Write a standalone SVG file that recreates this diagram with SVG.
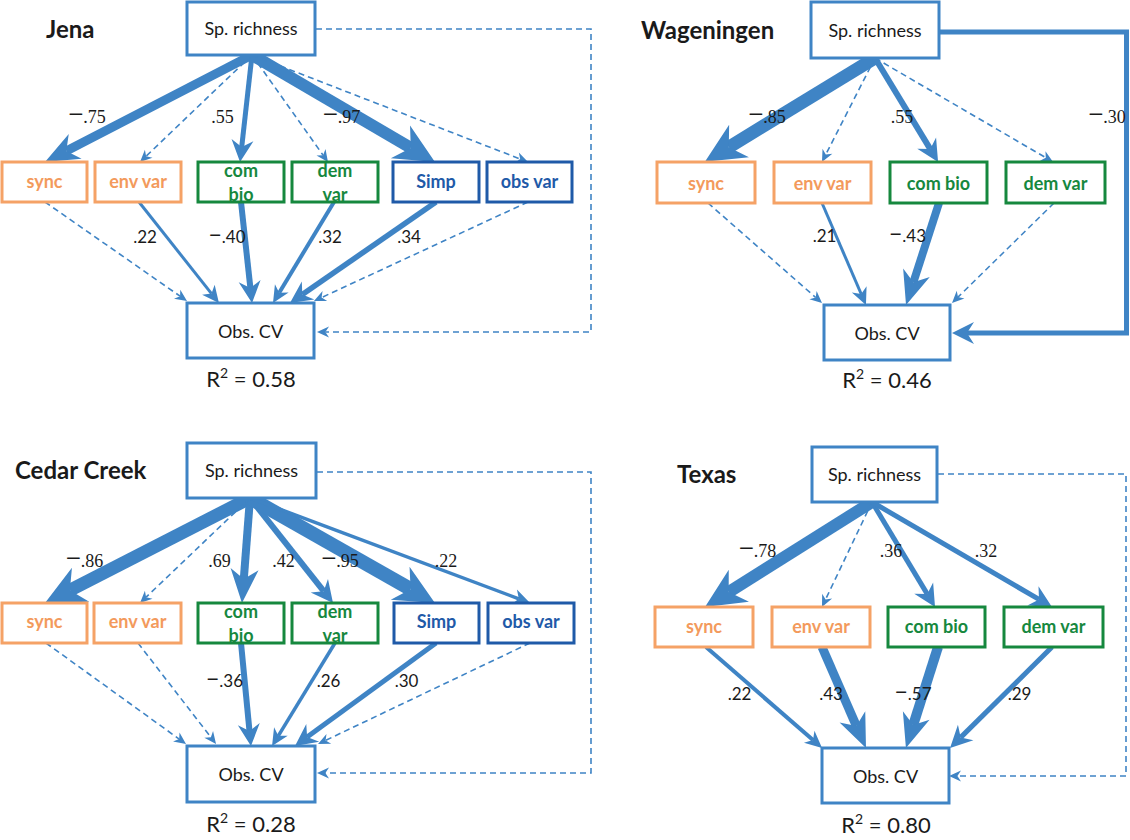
<svg xmlns="http://www.w3.org/2000/svg" width="1130" height="840" viewBox="0 0 1130 840">
<style>
.bg{fill:#fff}
.b{fill:#fff;stroke:#3f84c5;stroke-width:3}
.o{fill:#fff;stroke:#f5a266;stroke-width:3}
.g{fill:#fff;stroke:#16883e;stroke-width:3}
.d{fill:#fff;stroke:#1f5aa8;stroke-width:3}
.gn{fill:none;stroke:#16883e;stroke-width:3}
.t{font-family:Lato,"Liberation Sans",sans-serif;font-size:18px;fill:#1a1a1a;text-anchor:middle}
.tb{font-family:Lato,"Liberation Sans",sans-serif;font-size:18px;font-weight:bold;text-anchor:middle}
.to{fill:#f39a5c}
.tg{fill:#16883e}
.td{fill:#1f5aa8}
.title{font-family:Lato,"Liberation Sans",sans-serif;font-size:24px;font-weight:bold;fill:#1a1a1a}
.r2{font-family:Lato,"Liberation Sans",sans-serif;font-size:22px;fill:#1a1a1a;text-anchor:middle}
.c{fill:none;stroke:#3f84c5;stroke-linecap:butt;stroke-linejoin:miter}
.dash{stroke-width:1.6;stroke-dasharray:6 4;marker-end:url(#m1)}
.ls{font-family:"Liberation Serif","Times New Roman",serif;font-size:18px;fill:#1a1a1a;text-anchor:middle}
.lc{font-family:Lato,"Liberation Sans",sans-serif;font-size:17px;fill:#1a1a1a;text-anchor:middle}
.ms{font-size:27px}
.mc{font-size:23px}
</style>
<defs>
<marker id="m1" markerUnits="userSpaceOnUse" orient="auto" overflow="visible" refX="0" refY="0" markerWidth="1" markerHeight="1"><path d="M8.4,0 L-3.6,-5.5 L0,0 L-3.6,5.5Z" fill="#3f84c5"/></marker>
<marker id="m2" markerUnits="userSpaceOnUse" orient="auto" overflow="visible" refX="0" refY="0" markerWidth="1" markerHeight="1"><path d="M12,0 L-5,-8 L0,0 L-5,8Z" fill="#3f84c5"/></marker>
<marker id="m3" markerUnits="userSpaceOnUse" orient="auto" overflow="visible" refX="0" refY="0" markerWidth="1" markerHeight="1"><path d="M15,0 L-7,-11 L0,0 L-7,11Z" fill="#3f84c5"/></marker>
<marker id="m4" markerUnits="userSpaceOnUse" orient="auto" overflow="visible" refX="0" refY="0" markerWidth="1" markerHeight="1"><path d="M24,0 L-10,-14 L0,0 L-10,14Z" fill="#3f84c5"/></marker>
<marker id="m5" markerUnits="userSpaceOnUse" orient="auto" overflow="visible" refX="0" refY="0" markerWidth="1" markerHeight="1"><path d="M28,0 L-12,-19 L0,0 L-12,19Z" fill="#3f84c5"/></marker>
</defs>
<rect class="bg" x="0" y="0" width="1130" height="840"/>

<g id="titles">
<text class="title" x="46" y="38">Jena</text>
<text class="title" x="641" y="39">Wageningen</text>
<text class="title" x="15" y="479">Cedar Creek</text>
<text class="title" x="677" y="483">Texas</text>
</g>

<g id="connectors">
<!-- Jena -->
<path class="c" d="M252,55 L66.3,151" stroke-width="9" marker-end="url(#m4)"/>
<path class="c dash" d="M252,55 L146.1,156.2"/>
<path class="c" d="M252,55 L241.7,147.1" stroke-width="5" marker-end="url(#m3)"/>
<path class="c dash" d="M252,55 L323.1,155.2"/>
<path class="c" d="M252,55 L410.8,147.9" stroke-width="12" marker-end="url(#m5)"/>
<path class="c dash" d="M252,55 L520.2,159"/>
<path class="c dash" d="M45,202 L180.1,296.2"/>
<path class="c" d="M139,202 L211.5,293.6" stroke-width="3" marker-end="url(#m2)"/>
<path class="c" d="M241,202 L250.4,288.1" stroke-width="6" marker-end="url(#m3)"/>
<path class="c" d="M334,202 L279.2,292.7" stroke-width="4" marker-end="url(#m2)"/>
<path class="c" d="M436,202 L302.3,294.5" stroke-width="5.5" marker-end="url(#m3)"/>
<path class="c dash" d="M528,202 L321.6,297.5"/>
<path class="c dash" d="M316,29 H591 V332 H325.4"/>
<!-- Wageningen -->
<path class="c" d="M875,58 L728.8,147.2" stroke-width="13" marker-end="url(#m5)"/>
<path class="c dash" d="M875,58 L825.8,154.5"/>
<path class="c" d="M875,58 L930.3,149.1" stroke-width="6" marker-end="url(#m3)"/>
<path class="c dash" d="M875,58 L1045.8,157.7"/>
<path class="c dash" d="M708,203 L815.7,297.5"/>
<path class="c" d="M822,203 L861.2,294" stroke-width="3" marker-end="url(#m2)"/>
<path class="c" d="M939,203 L913.4,282.2" stroke-width="8" marker-end="url(#m4)"/>
<path class="c dash" d="M1054,203 L958,297.1"/>
<path class="c" d="M940,32 H1126.5 V333 H967" stroke-width="5" marker-end="url(#m3)"/>
<!-- Cedar Creek -->
<path class="c" d="M250,498 L69.9,590.2" stroke-width="13" marker-end="url(#m5)"/>
<path class="c dash" d="M250,498 L146.1,597.2"/>
<path class="c" d="M250,498 L243.8,579.1" stroke-width="8" marker-end="url(#m4)"/>
<path class="c" d="M250,498 L323.7,591.2" stroke-width="6" marker-end="url(#m3)"/>
<path class="c" d="M250,498 L410.6,589.2" stroke-width="14" marker-end="url(#m5)"/>
<path class="c" d="M250,498 L518.8,598.8" stroke-width="3.5" marker-end="url(#m2)"/>
<path class="c dash" d="M46,643 L179.2,739.1"/>
<path class="c dash" d="M138,643 L210.9,737.3"/>
<path class="c" d="M241,643 L249.5,731.1" stroke-width="6" marker-end="url(#m3)"/>
<path class="c" d="M335,643 L278.3,735.8" stroke-width="3.5" marker-end="url(#m2)"/>
<path class="c" d="M436,643 L307.1,737.1" stroke-width="5" marker-end="url(#m3)"/>
<path class="c dash" d="M530,643 L325.6,740.4"/>
<path class="c dash" d="M317,472 H591 V773 H325.4"/>
<!-- Texas -->
<path class="c" d="M872,502 L728.7,592.1" stroke-width="12" marker-end="url(#m5)"/>
<path class="c dash" d="M872,502 L825.6,599.4"/>
<path class="c" d="M872,502 L927.3,594.1" stroke-width="5" marker-end="url(#m3)"/>
<path class="c" d="M872,502 L1039,599.4" stroke-width="5" marker-end="url(#m3)"/>
<path class="c" d="M706,647 L813,740.1" stroke-width="4" marker-end="url(#m2)"/>
<path class="c" d="M822,647 L856.4,726" stroke-width="9" marker-end="url(#m4)"/>
<path class="c" d="M938,647 L913.2,725.1" stroke-width="10" marker-end="url(#m4)"/>
<path class="c" d="M1052,647 L960.7,737.4" stroke-width="5" marker-end="url(#m3)"/>
<path class="c dash" d="M938,474 H1126 V776 H957.4"/>
</g>

<g id="labels">
<text class="ls" x="87" y="123"><tspan class="ms">−</tspan>.75</text>
<text class="ls" x="222.5" y="123">.55</text>
<text class="ls" x="341.5" y="123"><tspan class="ms">−</tspan>.97</text>
<text class="lc" x="145" y="243">.22</text>
<text class="lc" x="227" y="243"><tspan class="mc">−</tspan>.40</text>
<text class="lc" x="330" y="243">.32</text>
<text class="lc" x="409" y="243">.34</text>
<text class="ls" x="767" y="123"><tspan class="ms">−</tspan>.85</text>
<text class="ls" x="902" y="123">.55</text>
<text class="ls" x="1107" y="123"><tspan class="ms">−</tspan>.30</text>
<text class="lc" x="824.5" y="242">.21</text>
<text class="lc" x="907.5" y="242"><tspan class="mc">−</tspan>.43</text>
<text class="ls" x="84.5" y="567"><tspan class="ms">−</tspan>.86</text>
<text class="ls" x="219.5" y="567">.69</text>
<text class="ls" x="283.5" y="567">.42</text>
<text class="ls" x="340" y="567"><tspan class="ms">−</tspan>.95</text>
<text class="ls" x="446" y="567">.22</text>
<text class="lc" x="224.5" y="687"><tspan class="mc">−</tspan>.36</text>
<text class="lc" x="328.5" y="687">.26</text>
<text class="lc" x="406.5" y="687">.30</text>
<text class="ls" x="757.5" y="557"><tspan class="ms">−</tspan>.78</text>
<text class="ls" x="891" y="557">.36</text>
<text class="ls" x="986" y="557">.32</text>
<text class="lc" x="739.5" y="700">.22</text>
<text class="lc" x="831" y="700">.43</text>
<text class="lc" x="913" y="700"><tspan class="mc">−</tspan>.57</text>
<text class="lc" x="1019.5" y="700">.29</text>
</g>

<!-- Jena nodes -->
<g id="jena-sp"><rect class="b" x="187" y="2" width="128" height="53"/><text class="t" x="251" y="35">Sp. richness</text></g>
<g id="jena-sync"><rect class="o" x="2" y="162" width="85" height="40"/><text class="tb to" x="44.5" y="188">sync</text></g>
<g id="jena-env"><rect class="o" x="95" y="162" width="86" height="40"/><text class="tb to" x="138" y="188">env var</text></g>
<g id="jena-com"><rect class="bg" x="198" y="162" width="86" height="40"/><text class="tb tg" x="241" y="177">com</text><text class="tb tg" x="241" y="201">bio</text><rect class="gn" x="198" y="162" width="86" height="40"/></g>
<g id="jena-dem"><rect class="bg" x="292" y="162" width="86" height="40"/><text class="tb tg" x="335" y="177">dem</text><text class="tb tg" x="335" y="201">var</text><rect class="gn" x="292" y="162" width="86" height="40"/></g>
<g id="jena-simp"><rect class="d" x="393" y="162" width="86" height="40"/><text class="tb td" x="436" y="188">Simp</text></g>
<g id="jena-obsvar"><rect class="d" x="487" y="162" width="85" height="40"/><text class="tb td" x="529.5" y="188">obs var</text></g>
<g id="jena-cv"><rect class="b" x="187" y="303" width="127" height="55"/><text class="t" x="250.5" y="338">Obs. CV</text></g>
<g id="jena-r2"><text class="r2" x="251" y="387">R<tspan font-size="14" dy="-9">2</tspan><tspan dy="9"> = 0.58</tspan></text></g>

<!-- Wageningen nodes -->
<g id="wag-sp"><rect class="b" x="811" y="2" width="128" height="56"/><text class="t" x="875" y="37">Sp. richness</text></g>
<g id="wag-sync"><rect class="o" x="657" y="162" width="98" height="41"/><text class="tb to" x="706" y="190">sync</text></g>
<g id="wag-env"><rect class="o" x="774" y="162" width="97" height="41"/><text class="tb to" x="822.5" y="190">env var</text></g>
<g id="wag-com"><rect class="g" x="890" y="162" width="97" height="41"/><text class="tb tg" x="938.5" y="190">com bio</text></g>
<g id="wag-dem"><rect class="g" x="1006" y="162" width="99" height="41"/><text class="tb tg" x="1055.5" y="190">dem var</text></g>
<g id="wag-cv"><rect class="b" x="824" y="305" width="126" height="55"/><text class="t" x="887" y="340">Obs. CV</text></g>
<g id="wag-r2"><text class="r2" x="887" y="388">R<tspan font-size="14" dy="-9">2</tspan><tspan dy="9"> = 0.46</tspan></text></g>

<!-- Cedar Creek nodes -->
<g id="cc-sp"><rect class="b" x="187" y="443" width="129" height="55"/><text class="t" x="251.5" y="477">Sp. richness</text></g>
<g id="cc-sync"><rect class="o" x="2" y="603" width="85" height="40"/><text class="tb to" x="44.5" y="628">sync</text></g>
<g id="cc-env"><rect class="o" x="94" y="603" width="87" height="40"/><text class="tb to" x="137.5" y="628">env var</text></g>
<g id="cc-com"><rect class="bg" x="198" y="603" width="86" height="40"/><text class="tb tg" x="241" y="618">com</text><text class="tb tg" x="241" y="642">bio</text><rect class="gn" x="198" y="603" width="86" height="40"/></g>
<g id="cc-dem"><rect class="bg" x="292" y="603" width="86" height="40"/><text class="tb tg" x="335" y="618">dem</text><text class="tb tg" x="335" y="642">var</text><rect class="gn" x="292" y="603" width="86" height="40"/></g>
<g id="cc-simp"><rect class="d" x="394" y="603" width="85" height="40"/><text class="tb td" x="436.5" y="628">Simp</text></g>
<g id="cc-obsvar"><rect class="d" x="488" y="603" width="86" height="40"/><text class="tb td" x="531" y="628">obs var</text></g>
<g id="cc-cv"><rect class="b" x="187" y="746" width="128" height="56"/><text class="t" x="251" y="781">Obs. CV</text></g>
<g id="cc-r2"><text class="r2" x="251" y="832">R<tspan font-size="14" dy="-9">2</tspan><tspan dy="9"> = 0.28</tspan></text></g>

<!-- Texas nodes -->
<g id="tx-sp"><rect class="b" x="812" y="447" width="125" height="55"/><text class="t" x="874.5" y="481">Sp. richness</text></g>
<g id="tx-sync"><rect class="o" x="655" y="607" width="98" height="40"/><text class="tb to" x="704" y="633">sync</text></g>
<g id="tx-env"><rect class="o" x="772" y="607" width="98" height="40"/><text class="tb to" x="821" y="633">env var</text></g>
<g id="tx-com"><rect class="g" x="888" y="607" width="97" height="40"/><text class="tb tg" x="936.5" y="633">com bio</text></g>
<g id="tx-dem"><rect class="g" x="1004" y="607" width="99" height="40"/><text class="tb tg" x="1053.5" y="633">dem var</text></g>
<g id="tx-cv"><rect class="b" x="822" y="748" width="127" height="55"/><text class="t" x="885.5" y="783">Obs. CV</text></g>
<g id="tx-r2"><text class="r2" x="886" y="833">R<tspan font-size="14" dy="-9">2</tspan><tspan dy="9"> = 0.80</tspan></text></g>
</svg>
